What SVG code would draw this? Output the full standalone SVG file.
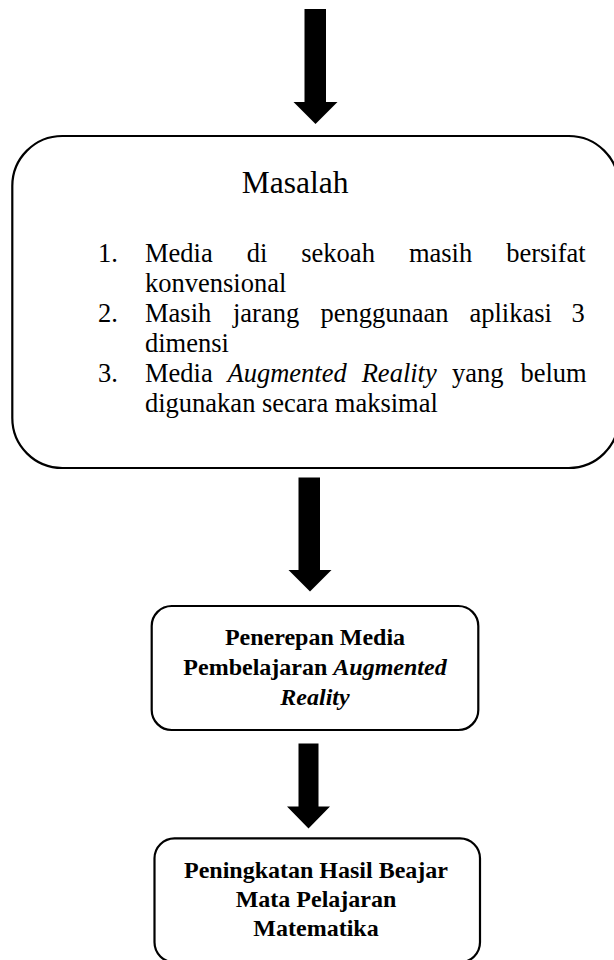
<svg xmlns="http://www.w3.org/2000/svg" width="614" height="960" viewBox="0 0 614 960">
<style>
.box{fill:#fff;stroke:#000;stroke-width:2.2}
.arr{fill:#000;stroke:none}
.t{font-family:"Liberation Serif","Times New Roman",serif;fill:#000}
.list{font-size:26.5px}
.title{font-size:31.5px}
.b{font-size:24px;font-weight:bold;text-anchor:middle}
.i{font-style:italic}
</style>
<g id="connectors">
<polygon class="arr" points="304.5,9 326,9 326,102 337.5,102 315.5,124 293.5,102 304.5,102"/>
<polygon class="arr" points="298.5,477.5 320,477.5 320,570 331.5,570 310,591.5 288.5,570 298.5,570"/>
<polygon class="arr" points="298.5,743.5 318.5,743.5 318.5,806.5 330,806.5 308.5,828.5 287,806.5 298.5,806.5"/>
</g>
<g id="masalah">
<rect class="box" x="12.3" y="136" width="606.5" height="332" rx="50" ry="50"/>
<text class="t title" x="241.7" y="192.7">Masalah</text>
<g class="t list">
<text x="98" y="261.7">1.</text>
<text y="261.7"><tspan x="145">Media</tspan><tspan x="246.7">di</tspan><tspan x="301.3">sekoah</tspan><tspan x="408.9">masih</tspan><tspan x="506.2">bersifat</tspan></text>
<text x="145" y="291.7">konvensional</text>
<text x="98" y="321.7">2.</text>
<text y="321.7"><tspan x="145">Masih</tspan><tspan x="233">jarang</tspan><tspan x="320.5">penggunaan</tspan><tspan x="469.5">aplikasi</tspan><tspan x="571.5">3</tspan></text>
<text x="145" y="351.7">dimensi</text>
<text x="98" y="381.7">3.</text>
<text y="381.7"><tspan x="145">Media</tspan><tspan class="i" x="227.5">Augmented</tspan><tspan class="i" x="361.7">Reality</tspan><tspan x="452">yang</tspan><tspan x="520.5">belum</tspan></text>
<text x="145" y="411.7">digunakan secara maksimal</text>
</g>
</g>
<g id="penerapan">
<rect class="box" x="151.7" y="606" width="326.6" height="124" rx="20" ry="20"/>
<text class="t b" x="315" y="645">Penerepan Media</text>
<text class="t b" x="315" y="675">Pembelajaran <tspan class="i">Augmented</tspan></text>
<text class="t b i" x="315" y="705">Reality</text>
</g>
<g id="peningkatan">
<rect class="box" x="154.5" y="838.3" width="325.5" height="124" rx="20" ry="20"/>
<text class="t b" x="316" y="878.3">Peningkatan Hasil Beajar</text>
<text class="t b" x="316" y="907.3">Mata Pelajaran</text>
<text class="t b" x="316" y="936.3">Matematika</text>
</g>
</svg>
